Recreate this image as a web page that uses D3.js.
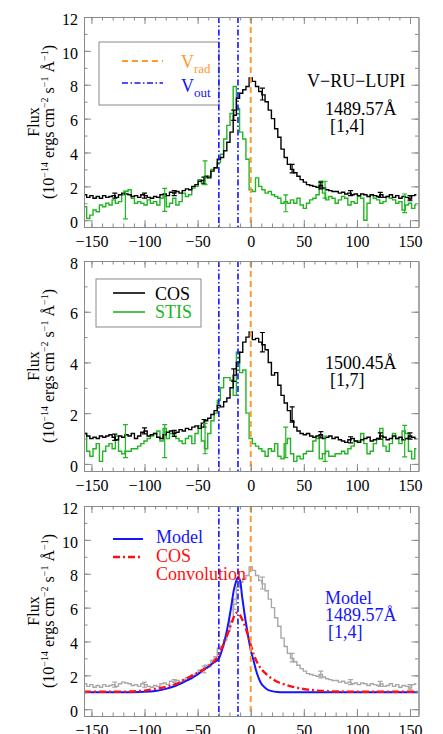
<!DOCTYPE html>
<html><head><meta charset="utf-8">
<script src="https://cdn.jsdelivr.net/npm/d3@7"></script>
<style>body{margin:0;background:#fff} svg text{font-family:"Liberation Serif","Times New Roman",serif}</style>
</head><body><svg id="c" width="443" height="734"></svg>
<script>
// ---------------- DATA ----------------
const velocity = [
-156,-153,-150,-147,-144,-141,-138,-135,-132,-129,
-126,-123,-120,-117,-114,-111,-108,-105,-102,-99,
-96,-93,-90,-87,-84,-81,-78,-75,-72,-69,
-66,-63,-60,-57,-54,-51,-48,-45,-42,-39,
-36,-33,-30,-27,-24,-21,-18,-15,-12,-9,
-6,-3,0,3,6,9,12,15,18,21,
24,27,30,33,36,39,42,45,48,51,
54,57,60,63,66,69,72,75,78,81,
84,87,90,93,96,99,102,105,108,111,
114,117,120,123,126,129,132,135,138,141,
144,147,150,153,156];

const cosFlux1489 = [
1.5,1.35,1.45,1.3,1.4,1.3,1.45,1.35,1.4,1.45,
1.35,1.5,1.6,1.55,1.5,1.4,1.45,1.35,1.5,1.45,
1.35,1.3,1.4,1.35,1.5,1.55,1.45,1.65,1.6,1.7,
1.6,1.75,1.85,1.8,2.0,2.1,2.3,2.35,2.6,2.5,
2.9,3.1,3.6,3.7,4.1,4.6,5.2,6.2,7.2,7.5,
7.7,7.9,8.4,8.2,7.9,7.6,7.4,7.0,6.5,6.0,
5.4,4.9,4.2,3.7,3.3,3.0,2.8,2.6,2.4,2.25,
2.1,2.05,2.0,1.95,2.05,1.9,1.8,1.75,1.7,1.7,
1.6,1.65,1.55,1.6,1.5,1.55,1.45,1.55,1.5,1.4,
1.5,1.45,1.4,1.5,1.35,1.4,1.5,1.35,1.45,1.3,
1.4,1.35,1.25,1.45,1.5];

const stisFlux1489 = [
0.8,0.1,0.3,0.6,0.5,0.9,0.8,1.0,0.9,1.2,
1.0,1.1,1.5,1.7,1.8,1.3,1.0,1.1,1.0,0.9,
1.2,1.0,1.1,0.9,1.3,1.4,0.8,1.0,1.3,0.9,
1.1,1.6,1.4,1.5,1.9,2.0,2.4,2.2,2.5,2.6,
3.0,3.1,3.4,3.9,4.8,5.6,6.3,7.9,6.6,5.2,
4.8,3.6,1.8,1.7,2.5,2.0,1.8,1.6,1.7,1.5,
1.4,1.3,1.0,1.1,1.0,1.2,1.0,1.3,0.9,0.7,
1.0,1.2,1.3,1.5,2.3,1.6,1.2,1.4,1.3,1.0,
1.2,1.4,1.3,0.9,1.1,1.0,1.4,1.3,0.0,1.0,
1.5,1.3,1.2,1.0,1.1,1.4,1.3,1.2,1.0,1.1,
0.6,0.9,1.0,0.7,0.9];

const cosFlux1500 = [
1.2,1.1,1.0,1.05,1.0,1.1,1.05,1.1,1.15,1.05,
0.95,1.1,1.05,1.15,1.1,1.2,1.0,1.1,1.25,1.3,
1.1,1.15,1.2,1.05,1.0,1.15,1.25,1.3,1.2,1.25,
1.35,1.3,1.4,1.35,1.45,1.5,1.4,1.6,1.7,1.8,
1.95,2.1,2.3,2.25,2.45,2.6,3.0,3.5,4.0,4.4,
4.8,5.0,5.2,4.9,4.95,4.8,4.7,4.5,4.0,3.5,
3.6,3.1,2.7,2.4,2.1,1.7,1.45,1.3,1.2,1.15,
1.2,1.1,1.05,1.1,1.15,1.0,1.05,1.1,1.0,1.05,
0.95,0.9,0.85,0.95,1.0,0.9,0.85,0.95,1.0,1.05,
0.9,0.95,1.0,1.1,1.05,0.95,1.0,1.1,1.0,1.05,
0.95,1.0,1.1,1.05,1.0];

const stisFlux1500 = [
1.2,0.5,0.3,0.6,0.8,0.1,0.5,0.7,0.8,0.6,
1.1,0.5,0.4,0.5,0.5,0.6,0.6,0.7,0.8,0.9,
1.0,1.1,1.2,1.3,0.9,1.4,1.0,1.2,1.1,1.0,
0.9,0.8,1.0,1.1,0.8,1.2,1.5,0.9,0.6,1.2,
1.7,2.0,2.5,3.0,3.4,3.4,3.3,2.7,4.4,3.6,
3.7,2.0,1.0,0.8,0.7,0.6,0.5,0.3,0.6,0.5,
0.8,0.3,0.2,0.8,1.0,0.4,0.1,0.3,0.2,0.4,
0.5,0.5,0.9,1.0,0.2,0.4,0.5,0.3,0.3,0.4,
0.4,0.5,0.4,0.6,0.7,0.9,0.9,1.2,0.8,0.4,
0.5,0.8,1.0,1.4,0.7,0.5,0.8,1.2,1.0,0.8,
1.3,1.2,0.5,0.2,0.6];

// error bars (position, centre, half-length)
const cosErrVel = [-128,-100,-72,-44,-16,11,39,66,94,122,150];
const cosErrMid1489 = [1.45,1.45,1.6,2.35,6.2,7.45,3.05,2.05,1.6,1.5,1.3];
const cosErrHalf1489 = [0.15,0.15,0.15,0.2,0.3,0.35,0.25,0.2,0.15,0.15,0.15];
const cosErrMid1500 = [1.05,1.3,1.2,1.6,3.5,4.8,1.95,1.15,0.95,1.1,1.1];
const cosErrHalf1500 = [0.12,0.12,0.12,0.15,0.25,0.38,0.3,0.12,0.12,0.12,0.12];
const stisErrVel = [-118,-81,-43,33,70,145];
const stisErrMid1489 = [0.9,1.2,2.8,1.0,1.8,1.0];
const stisErrHalf1489 = [0.82,0.68,0.7,0.5,0.5,0.55];
const stisErrMid1500 = [0.9,0.9,1.0,0.85,0.6,0.9];
const stisErrHalf1500 = [0.65,0.65,0.6,0.6,0.5,0.62];

// model curves (bottom panel)
const modelVel = [-157,-120,-100,-90,-80,-70,-60,-50,-45,-40,-35,-30,-27,-24,-21,-18,-16,-14,-12,-10,-8,-6,-4,-2,0,3,5,7.5,10,13,16,20,25,30,60,157];
const modelFlux = [1.0,1.0,1.03,1.08,1.2,1.4,1.7,2.05,2.3,2.5,2.75,3.0,3.5,4.2,5.1,6.2,7.0,7.5,7.8,7.6,6.6,5.7,4.9,4.15,3.5,2.8,2.3,1.84,1.5,1.3,1.15,1.07,1.02,1.0,1.0,1.0];
const convVel = [-157,-120,-100,-90,-78,-70,-63,-55,-47,-40,-35,-30,-26,-22,-18,-15,-13,-10,-8,-5,-3,0,3,7,11,16,20,25,30,38,45,54,63,73,90,120,157];
const convFlux = [1.03,1.04,1.1,1.2,1.35,1.5,1.72,2.0,2.26,2.55,2.8,3.2,3.8,4.4,5.1,5.55,5.7,5.55,5.3,4.85,4.45,3.8,3.2,2.65,2.3,2.0,1.8,1.62,1.5,1.35,1.25,1.16,1.1,1.06,1.04,1.03,1.03];

const vRad = 0;
const vOut = [-30, -12];
const xTicks = [-150,-100,-50,0,50,100,150];
const yTicks12 = [0,2,4,6,8,10,12];
const yTicks8 = [0,2,4,6,8];

// ---------------- LAYOUT ----------------
const svg = d3.select("#c");
const L = 84, R = 418.5, PH = 210;
const tops = [17, 261, 506];
const frameCol = "#8a8a8a";
const green = "#22b422", orange = "#ff9a30", blue = "#1414ff", red = "#ff1010", gray = "#a8a8a8";
const x = d3.scaleLinear().domain([-157, 158]).range([L, R]);
const xMinor = d3.range(-150, 151, 10);
const font = "'Liberation Serif','Times New Roman',serif";

function rows(v, f) { return v.map((d, i) => [d, f[i]]); }

function makePanel(idx, yDom, yTicks) {
  const top = tops[idx], bot = top + PH;
  const y = d3.scaleLinear().domain(yDom).range([bot, top]);
  const g = svg.append("g");
  const cid = "clip" + idx;
  svg.append("clipPath").attr("id", cid).append("rect")
    .attr("x", L).attr("y", top).attr("width", R - L).attr("height", PH);
  const data = g.append("g").attr("clip-path", `url(#${cid})`);
  return { y, top, bot, g, data };
}

function stepLine(p, v, f, col, w) {
  const line = d3.line().x(d => x(d[0])).y(d => p.y(d[1])).curve(d3.curveStep);
  p.data.append("path").datum(rows(v, f)).attr("d", line)
    .attr("fill", "none").attr("stroke", col).attr("stroke-width", w).attr("stroke-linejoin", "miter");
}
function smoothLine(p, v, f, col, w, dash) {
  const line = d3.line().x(d => x(d[0])).y(d => p.y(d[1])).curve(d3.curveMonotoneX);
  const path = p.data.append("path").datum(rows(v, f)).attr("d", line)
    .attr("fill", "none").attr("stroke", col).attr("stroke-width", w);
  if (dash) path.attr("stroke-dasharray", dash);
}
function errBars(p, v, mid, half, col) {
  const gg = p.data.append("g").attr("stroke", col).attr("stroke-width", 1.2);
  v.forEach((vv, i) => {
    const xx = x(vv), y0 = p.y(mid[i] - half[i]), y1 = p.y(mid[i] + half[i]);
    gg.append("line").attr("x1", xx).attr("x2", xx).attr("y1", y0).attr("y2", y1);
    gg.append("line").attr("x1", xx - 2.5).attr("x2", xx + 2.5).attr("y1", y0).attr("y2", y0);
    gg.append("line").attr("x1", xx - 2.5).attr("x2", xx + 2.5).attr("y1", y1).attr("y2", y1);
  });
}
function vLines(p) {
  vOut.forEach(v => {
    p.g.append("line").attr("x1", x(v)).attr("x2", x(v)).attr("y1", p.top).attr("y2", p.bot)
      .attr("stroke", blue).attr("stroke-width", 1.6).attr("stroke-dasharray", "6,2.5,1.5,2.5");
  });
  p.g.append("line").attr("x1", x(vRad)).attr("x2", x(vRad)).attr("y1", p.top).attr("y2", p.bot)
    .attr("stroke", orange).attr("stroke-width", 2).attr("stroke-dasharray", "6,4");
}
function styleAxis(sel) {
  sel.attr("font-family", font).attr("font-size", 16);
  sel.select(".domain").attr("stroke", frameCol).attr("stroke-width", 1);
  sel.selectAll(".tick line").attr("stroke", frameCol).attr("stroke-width", 1);
  sel.selectAll(".tick text").attr("fill", "#000");
  return sel;
}
function axes(p, yTicks, yDom) {
  const yMinor = d3.range(Math.ceil(yDom[0]), yDom[1] + 0.001, 1);
  const fmt = d3.format("d");
  styleAxis(p.g.append("g").attr("transform", `translate(0,${p.bot})`)
    .call(d3.axisBottom(x).tickValues(xMinor).tickSize(-3.5).tickSizeOuter(0).tickFormat("")));
  styleAxis(p.g.append("g").attr("transform", `translate(0,${p.bot})`)
    .call(d3.axisBottom(x).tickValues(xTicks).tickSize(-7).tickSizeOuter(0).tickPadding(9).tickFormat(fmt)));
  styleAxis(p.g.append("g").attr("transform", `translate(0,${p.top})`)
    .call(d3.axisTop(x).tickValues(xMinor).tickSize(-3.5).tickSizeOuter(0).tickFormat("")));
  styleAxis(p.g.append("g").attr("transform", `translate(0,${p.top})`)
    .call(d3.axisTop(x).tickValues(xTicks).tickSize(-7).tickSizeOuter(0).tickFormat("")));
  styleAxis(p.g.append("g").attr("transform", `translate(${L},0)`)
    .call(d3.axisLeft(p.y).tickValues(yMinor).tickSize(-3.5).tickSizeOuter(0).tickFormat("")));
  const la = styleAxis(p.g.append("g").attr("transform", `translate(${L},0)`)
    .call(d3.axisLeft(p.y).tickValues(yTicks).tickSize(-7).tickSizeOuter(0).tickPadding(6).tickFormat(fmt)));
  la.selectAll(".tick text").attr("dy", "0.45em");
  styleAxis(p.g.append("g").attr("transform", `translate(${R},0)`)
    .call(d3.axisRight(p.y).tickValues(yMinor).tickSize(-3.5).tickSizeOuter(0).tickFormat("")));
  styleAxis(p.g.append("g").attr("transform", `translate(${R},0)`)
    .call(d3.axisRight(p.y).tickValues(yTicks).tickSize(-7).tickSizeOuter(0).tickFormat("")));
  const cy = (p.top + p.bot) / 2;
  p.g.append("text").attr("transform", `translate(39,${cy}) rotate(-90)`)
    .attr("text-anchor", "middle").attr("font-size", 16).text("Flux");
  const t = p.g.append("text").attr("transform", `translate(54,${cy}) rotate(-90)`)
    .attr("text-anchor", "middle").attr("font-size", 16);
  const parts = [["(10", 0], ["−14", 1], [" ergs cm", 0], ["−2", 1], [" s", 0], ["−1", 1], [" Å", 0], ["−1", 1], [")", 0]];
  let up = false;
  parts.forEach(([s, sup]) => {
    const ts = t.append("tspan").text(s);
    if (sup) { ts.attr("font-size", 10).attr("dy", up ? 0 : -6); up = true; }
    else { ts.attr("dy", up ? 6 : 0); up = false; }
  });
}
function txt(p, xx, yy, s, col, size) {
  return p.g.append("text").attr("x", xx).attr("y", yy).attr("font-size", size || 18)
    .attr("fill", col || "#000").text(s);
}
function subTxt(p, xx, yy, main, sub, col) {
  const t = p.g.append("text").attr("x", xx).attr("y", yy).attr("font-size", 18).attr("fill", col);
  t.append("tspan").text(main);
  t.append("tspan").attr("font-size", 13).attr("dy", 5).text(sub);
}
function legLine(p, x1, x2, yy, col, w, dash) {
  const l = p.g.append("line").attr("x1", x1).attr("x2", x2).attr("y1", yy).attr("y2", yy)
    .attr("stroke", col).attr("stroke-width", w);
  if (dash) l.attr("stroke-dasharray", dash);
}

// ---------------- PANEL 1 ----------------
const p1 = makePanel(0, [-0.4, 12], yTicks12);
stepLine(p1, velocity, stisFlux1489, green, 1.4);
stepLine(p1, velocity, cosFlux1489, "#000", 1.4);
errBars(p1, cosErrVel, cosErrMid1489, cosErrHalf1489, "#000");
errBars(p1, stisErrVel, stisErrMid1489, stisErrHalf1489, green);
p1.g.append("rect").attr("x", 99).attr("y", 42).attr("width", 120).attr("height", 63)
  .attr("fill", "#fff").attr("stroke", frameCol).attr("stroke-width", 1);
vLines(p1);
axes(p1, yTicks12, [-0.4, 12]);
legLine(p1, 122, 163, 61, orange, 2, "6,4");
subTxt(p1, 181, 68, "V", "rad", orange);
legLine(p1, 122, 163, 83, blue, 1.6, "6,2.5,1.5,2.5");
subTxt(p1, 181, 92, "V", "out", blue);
txt(p1, 307, 87, "V−RU−LUPI");
txt(p1, 325, 115, "1489.57Å");
txt(p1, 330, 132, "[1,4]");

// ---------------- PANEL 2 ----------------
const p2 = makePanel(1, [-0.28, 8], yTicks8);
stepLine(p2, velocity, stisFlux1500, green, 1.4);
stepLine(p2, velocity, cosFlux1500, "#000", 1.4);
errBars(p2, cosErrVel, cosErrMid1500, cosErrHalf1500, "#000");
errBars(p2, stisErrVel, stisErrMid1500, stisErrHalf1500, green);
vLines(p2);
axes(p2, yTicks8, [-0.28, 8]);
p2.g.append("rect").attr("x", 96).attr("y", 279).attr("width", 105).attr("height", 48)
  .attr("fill", "#fff").attr("stroke", frameCol).attr("stroke-width", 1);
legLine(p2, 113, 145, 293, "#000", 1.6);
txt(p2, 155, 300, "COS");
legLine(p2, 113, 145, 312, green, 1.6);
txt(p2, 155, 318, "STIS", green);
txt(p2, 325, 369, "1500.45Å");
txt(p2, 330, 386, "[1,7]");

// ---------------- PANEL 3 ----------------
const p3 = makePanel(2, [-0.4, 12], yTicks12);
stepLine(p3, velocity, cosFlux1489, gray, 1.4);
errBars(p3, cosErrVel, cosErrMid1489, cosErrHalf1489, gray);
smoothLine(p3, modelVel, modelFlux, blue, 2);
smoothLine(p3, convVel, convFlux, red, 2.4, "7,3,2,3");
vLines(p3);
axes(p3, yTicks12, [-0.4, 12]);
legLine(p3, 113, 143, 539, blue, 2);
txt(p3, 156, 543, "Model", blue);
legLine(p3, 113, 143, 557, red, 2.4, "7,3,2,3");
txt(p3, 156, 562, "COS", red);
txt(p3, 156, 580, "Convolution", red);
txt(p3, 325, 604, "Model", blue);
txt(p3, 325, 621, "1489.57Å", blue);
txt(p3, 328, 638, "[1,4]", blue);
</script></body></html>
